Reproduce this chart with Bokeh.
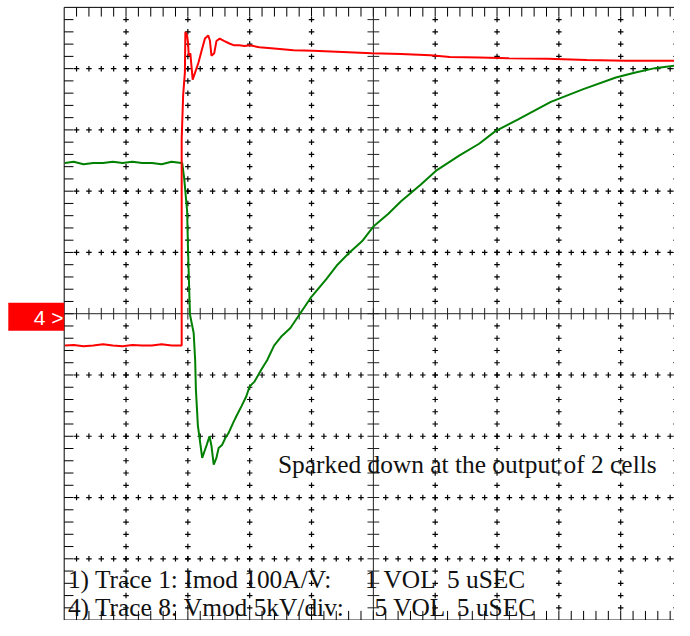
import numpy as np
from bokeh.plotting import figure
from bokeh.models import Range1d
from bokeh.embed import file_html
from bokeh.resources import INLINE
from bokeh.core.properties import value

# ---- scope settings ----
US_PER_DIV = 5      # 5 uSEC / div
KV_PER_DIV = 5      # Vmod 5 kV / div
A_PER_DIV = 100     # Imod 100 A/V, 1 V / div

# ---- Trace 8 : Vmod (green), time in us from left edge, kV ----
vmod_t = [0.06, 0.77, 1.56, 2.35, 3.14, 3.93, 4.72, 5.51, 6.30, 7.09, 7.88, 8.68, 9.46,
          9.54, 9.70, 9.94, 10.02, 10.17, 10.47, 10.59, 10.65, 10.81, 11.16, 11.38, 11.52,
          11.75, 11.91, 12.09, 12.31, 12.49, 12.76, 13.02, 13.28, 13.67, 13.94, 14.34,
          14.73, 14.99, 15.39, 15.92, 16.41, 16.97, 17.60, 18.29, 19.08, 19.99, 21.18,
          22.10, 23.03, 24.08, 25.00, 26.19, 27.24, 28.82, 30.14, 31.97, 33.55, 34.87,
          36.71, 39.35, 41.98, 44.61, 46.19, 47.77, 49.35]
vmod_kv = [12.3, 12.4, 12.2, 12.3, 12.3, 12.4, 12.3, 12.4, 12.3, 12.3, 12.2, 12.4, 12.3,
           12.3, 11.09, 8.38, 4.96, -0.06, -1.57, -3.80, -6.18, -9.13, -11.76, -11.12, -10.72,
           -10.00, -10.80, -12.31, -11.76, -10.96, -10.72, -10.16, -9.76, -8.89, -8.33, -7.54,
           -6.74, -5.94, -5.54, -4.59, -3.80, -2.60, -1.81, -1.17, 0.02, 1.38, 2.81,
           4.00, 4.96, 5.91, 7.11, 8.14, 9.18, 10.53, 11.72, 12.92, 13.87, 14.90,
           15.86, 17.29, 18.33, 19.28, 19.68, 20.04, 20.24]

# ---- Trace 1 : Imod (red), time in us from left edge, A ----
imod_t = [0.06, 0.77, 1.56, 2.35, 3.14, 3.93, 4.72, 5.51, 6.30, 7.09, 7.88, 8.68, 9.46,
          9.50, 9.50, 9.62, 9.76, 9.80, 9.94, 10.02, 10.07, 10.20, 10.39, 10.59, 10.86,
          11.12, 11.38, 11.65, 11.78, 11.91, 12.13, 12.31, 12.57, 12.96, 13.36, 13.75,
          14.15, 14.60, 14.99, 15.78, 16.97, 18.55, 20.13, 22.50, 24.87, 27.24, 29.61,
          31.19, 33.56, 35.93, 39.09, 42.25, 45.41, 49.35]
imod_a = [-52, -51, -53, -52, -50, -52, -53, -51, -52, -52, -50, -52, -52,
          -52, 285, 357, 394, 460, 454, 441, 421, 425, 382, 394, 410,
          430, 449, 454, 446, 421, 425, 445, 449, 445, 441, 438,
          438, 437, 438, 435, 433, 430, 429, 427, 425, 424, 422,
          419, 418, 417, 416, 414, 413, 413]

notes = ["Sparked down at the output of 2 cells",
         "1) Trace 1: Imod 100A/V:", "1 VOL", "5 uSEC",
         "4) Trace 8: Vmod 5kV/div:", "5 VOL", "5 uSEC"]

# ---- figure: whole canvas is the plot frame, units = divisions ----
X0, X1 = -6.030, 4.870
Y0, Y1 = -5.007, 5.112
p = figure(width=674, height=620, x_range=Range1d(X0, X1), y_range=Range1d(Y0, Y1),
           output_backend="svg", toolbar_location=None, min_border=0,
           x_axis_location=None, y_axis_location=None)
p.grid.visible = False
p.outline_line_color = None
p.background_fill_color = "white"
p.border_fill_color = "white"

minor = np.round(np.arange(-25, 26) / 5.0, 3)
inner = minor[(np.abs(minor) < 5)]
majors = [k for k in range(-4, 5) if k != 0]

# border lines
p.segment(x0=[-5, -5, -5, 5], y0=[-5, 5, -5, -5], x1=[-5, 5, 5, 5], y1=[5, 5, -5, 5],
          line_color="black", line_width=1)
# border ticks
TL = 0.15
bx0, by0, bx1, by1 = [], [], [], []
for m in inner:
    bx0 += [-5, 5, m, m]; by0 += [m, m, 5, -5]
    bx1 += [-5 + TL, 5 - TL, m, m]; by1 += [m, m, 5 - TL, -5 + TL]
p.segment(x0=bx0, y0=by0, x1=bx1, y1=by1, line_color="black", line_width=1)

# centre axes with ticks
p.segment(x0=[-5, 0], y0=[0, -5], x1=[5, 0], y1=[0, 5], line_color="#222222", line_width=1)
CT = 0.095
cx0, cy0, cx1, cy1 = [], [], [], []
for m in inner:
    cx0 += [-CT, m]; cy0 += [m, -CT]; cx1 += [CT, m]; cy1 += [m, CT]
p.segment(x0=cx0, y0=cy0, x1=cx1, y1=cy1, line_color="#222222", line_width=1)

# dotted '+' grid
gx, gy = [], []
for k in majors:
    for m in inner:
        if m == 0:
            continue
        gx += [k, m]; gy += [m, k]
p.scatter(x=gx, y=gy, marker="cross", size=5.5, line_color="black", line_width=1.2)

# channel-4 ground marker
p.quad(left=[-5.904], right=[-5], bottom=[-0.277], top=[0.180], fill_color="#ff0000",
       line_color=None)
p.text(x=[-5.01], y=[-0.065], text=["4 >"], text_color="white", text_align="right",
       text_baseline="middle", text_font=value("Liberation Sans"),
       text_font_size=value("21px"))

# traces
gt = np.array(vmod_t) / US_PER_DIV - 5
gv = np.array(vmod_kv) / KV_PER_DIV
rt = np.array(imod_t) / US_PER_DIV - 5
rv = np.array(imod_a) / A_PER_DIV
p.line(gt, gv, line_color="#008000", line_width=2)
p.line(rt, rv, line_color="#ff0000", line_width=2)

# texts
tx = [-1.543, -4.94, -0.137, 1.19, -4.94, 0.02, 1.35]
ty = [-2.446, -4.33, -4.33, -4.33, -4.78, -4.78, -4.78]
p.text(x=tx, y=ty, text=notes, text_color="#111111", text_align="left",
       text_baseline="alphabetic", text_font=value("Liberation Serif"),
       text_font_size=value("25.4px"))

open("out.html", "w").write(file_html(p, INLINE))
